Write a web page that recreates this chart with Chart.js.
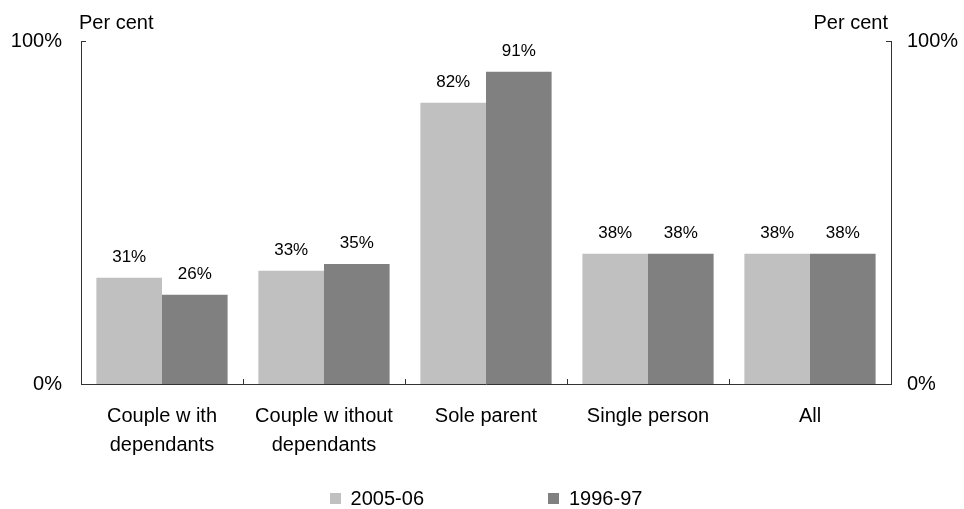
<!DOCTYPE html>
<html>
<head>
<meta charset="utf-8">
<script src="https://cdn.jsdelivr.net/npm/chart.js@4/dist/chart.umd.min.js"></script>
<style>
  html, body { margin: 0; padding: 0; background: #fff; }
  #wrap { width: 964px; height: 509px; }
</style>
</head>
<body>
<div id="wrap"><canvas id="c" width="964" height="509"></canvas></div>
<script>
// Household categories (multi-line labels)
const categories = [
  ["Couple w ith", "dependants"],
  ["Couple w ithout", "dependants"],
  "Sole parent",
  "Single person",
  "All"
];
// Share of households, per cent
const series2005 = [31, 33, 82, 38, 38];
const series1996 = [26, 35, 91, 38, 38];
const seriesNames = ["2005-06", "1996-97"];
const seriesColors = ["#C0C0C0", "#808080"];
const yTickValues = [0, 100];
const axisTitle = "Per cent";

const FONT = "'Liberation Sans', Arial, sans-serif";
const AXIS_COLOR = "#333333";

// Short inward tick marks, value labels above bars, axis titles and the legend
const decorations = {
  id: 'decorations',
  afterDraw(chart) {
    const ctx = chart.ctx;
    const area = chart.chartArea;
    const x = chart.scales.x;
    const y = chart.scales.y;
    ctx.save();
    ctx.strokeStyle = AXIS_COLOR;
    ctx.lineWidth = 1;

    // tick marks on the value axes (pointing into the plot)
    yTickValues.forEach(v => {
      const py = Math.round(y.getPixelForValue(v)) + 0.5;
      ctx.beginPath();
      ctx.moveTo(area.left, py); ctx.lineTo(area.left + 5, py);
      ctx.moveTo(area.right - 5, py); ctx.lineTo(area.right, py);
      ctx.stroke();
    });

    // category boundary ticks on the bottom axis
    const n = categories.length;
    for (let i = 0; i <= n; i++) {
      const px = Math.round(x.getPixelForValue(i - 0.5)) + 0.5;
      ctx.beginPath();
      ctx.moveTo(px, area.bottom);
      ctx.lineTo(px, area.bottom - 5);
      ctx.stroke();
    }

    // value labels above each bar
    ctx.fillStyle = '#000';
    ctx.font = '17px ' + FONT;
    ctx.textAlign = 'center';
    ctx.textBaseline = 'alphabetic';
    chart.data.datasets.forEach((ds, di) => {
      const meta = chart.getDatasetMeta(di);
      meta.data.forEach((bar, i) => {
        ctx.fillText(Math.round(ds.data[i]) + '%', bar.x, bar.y - 16);
      });
    });

    // axis titles
    ctx.font = '20px ' + FONT;
    ctx.textAlign = 'left';
    ctx.fillText(axisTitle, area.left - 2, 29);
    ctx.textAlign = 'right';
    ctx.fillText(axisTitle, area.right - 3, 29);

    // legend
    const box = 11;
    const gap = 124;
    const items = chart.data.datasets.map(ds => ({
      label: ds.label,
      color: ds.backgroundColor,
      w: box + 10 + ctx.measureText(ds.label).width
    }));
    const total = items.reduce((s, it) => s + it.w, 0) + gap * (items.length - 1);
    let lx = (area.left + area.right) / 2 - total / 2;
    ctx.textAlign = 'left';
    items.forEach(it => {
      ctx.fillStyle = it.color;
      ctx.fillRect(Math.round(lx), 493, box, box);
      ctx.fillStyle = '#000';
      ctx.fillText(it.label, lx + box + 10, 505);
      lx += it.w + gap;
    });
    ctx.restore();
  }
};

const valueAxis = (position, pad, width) => ({
  type: 'linear',
  position: position,
  min: 0,
  max: 100,
  afterBuildTicks(scale) { scale.ticks = yTickValues.map(v => ({ value: v })); },
  afterFit(scale) { scale.width = width; },
  grid: { display: false, drawTicks: false },
  border: { display: true, color: AXIS_COLOR, width: 1 },
  ticks: {
    padding: pad,
    color: '#000',
    font: { family: FONT, size: 20 },
    callback: v => v + '%'
  }
});

new Chart(document.getElementById('c'), {
  type: 'bar',
  data: {
    labels: categories,
    datasets: [
      { label: seriesNames[0], data: series2005, backgroundColor: seriesColors[0], yAxisID: 'y' },
      { label: seriesNames[1], data: series1996, backgroundColor: seriesColors[1], yAxisID: 'y' }
    ]
  },
  options: {
    responsive: false,
    animation: false,
    devicePixelRatio: 1,
    categoryPercentage: 0.81,
    barPercentage: 1.0,
    layout: { padding: { top: 41, bottom: 0, left: 0, right: 0 } },
    plugins: {
      legend: { display: false },
      tooltip: { enabled: false }
    },
    scales: {
      x: {
        afterFit(scale) { scale.height = 125; },
        grid: { display: false, drawTicks: false },
        border: { display: true, color: AXIS_COLOR, width: 1 },
        ticks: {
          padding: 18,
          color: '#000',
          maxRotation: 0,
          autoSkip: false,
          font: { family: FONT, size: 20, lineHeight: 1.45 }
        }
      },
      y: valueAxis('left', 19, 81),
      y2: valueAxis('right', 16, 73)
    }
  },
  plugins: [decorations]
});
</script>
</body>
</html>
